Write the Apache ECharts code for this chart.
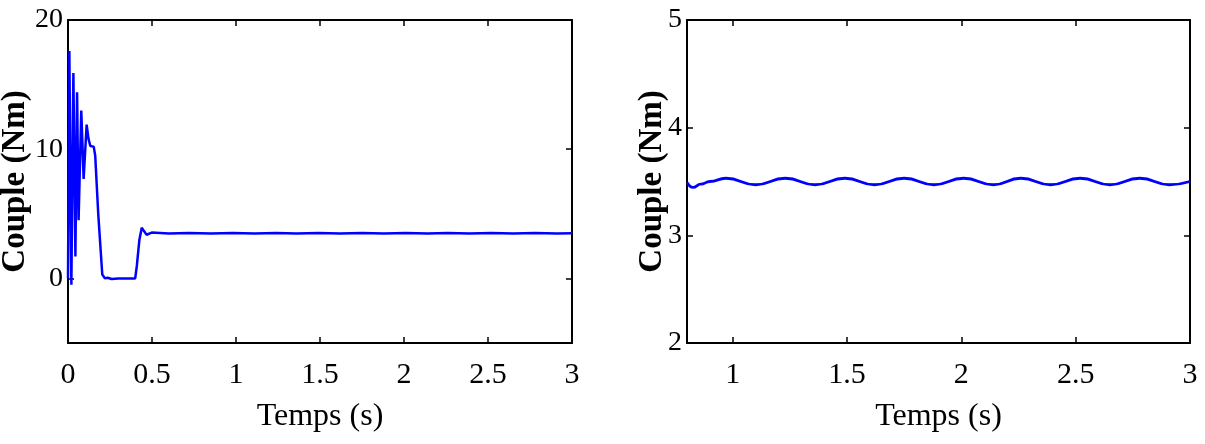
<!DOCTYPE html>
<html>
<head>
<meta charset="utf-8">
<script src="https://cdn.jsdelivr.net/npm/echarts@6/dist/echarts.min.js"></script>
<style>
html, body { margin: 0; padding: 0; background: #fff; }
#chart_plot_01 { width: 1205px; height: 444px; }
</style>
</head>
<body>
<div id="chart_plot_01"></div>
<script>
// couple au démarrage (figure de gauche)
let tempsG = [0, 0.008, 0.02, 0.032, 0.044, 0.054, 0.063, 0.079, 0.093, 0.111, 0.122, 0.133, 0.153, 0.162, 0.18, 0.204, 0.22, 0.235, 0.244, 0.26, 0.3, 0.4, 0.41, 0.425, 0.439, 0.45, 0.468, 0.498, 0.6, 0.72, 0.85, 0.98, 1.11, 1.24, 1.36, 1.49, 1.62, 1.75, 1.88, 2.01, 2.14, 2.26, 2.39, 2.52, 2.65, 2.78, 2.91, 3.0];
let coupleG = [0, 17.6, -0.5, 15.9, 1.7, 14.4, 4.5, 13.0, 7.7, 11.9, 10.8, 10.25, 10.2, 9.5, 5, 0.3, 0, 0.05, 0.18, -0.05, 0, 0, 1, 3, 3.92, 3.7, 3.38, 3.55, 3.47, 3.52, 3.47, 3.52, 3.47, 3.52, 3.47, 3.52, 3.47, 3.52, 3.47, 3.52, 3.47, 3.52, 3.47, 3.52, 3.47, 3.52, 3.47, 3.5];

// zoom régime permanent (figure de droite)
let tempsD = [0.8, 0.826, 0.86, 0.9, 0.97, 1.10, 1.23, 1.36, 1.49, 1.62, 1.75, 1.88, 2.01, 2.14, 2.26, 2.39, 2.52, 2.65, 2.78, 2.91, 3.0];
let coupleD = [3.49, 3.445, 3.475, 3.5, 3.53, 3.47, 3.53, 3.47, 3.53, 3.47, 3.53, 3.47, 3.53, 3.47, 3.53, 3.47, 3.53, 3.47, 3.53, 3.47, 3.5];

// graduations
let xTicksG = [0, 0.5, 1, 1.5, 2, 2.5, 3];
let yTicksG = [0, 10, 20];
let xTicksD = [1, 1.5, 2, 2.5, 3];
let yTicksD = [2, 3, 4, 5];

let police = "'Liberation Serif', 'Times New Roman', serif";

function pairs(xs, ys) {
  let out = [];
  for (let i = 0; i < xs.length; i++) {
    out.push([xs[i], ys[i]]);
  }
  return out;
}

// axe principal (avec étiquettes) ou miroir (boîte matlab)
function axe(type, pos, grid, min, max, ticks, name, gap, mirror) {
  let a = {
    type: 'value',
    gridIndex: grid,
    position: pos,
    min: min,
    max: max,
    splitLine: { show: false },
    axisLine: { show: true, onZero: false, lineStyle: { color: '#000', width: 2 } },
    axisTick: { show: true, inside: true, length: 6, customValues: ticks, lineStyle: { color: '#000', width: 1.5 } },
    axisLabel: {
      show: !mirror,
      customValues: ticks,
      color: '#000',
      fontFamily: police,
      fontSize: type == 'x' ? 30 : 28
    }
  };
  if (!mirror && name) {
    a.name = name;
    a.nameLocation = 'middle';
    a.nameGap = gap;
    a.nameMoveOverlap = false;
    if (type == 'x') {
      a.nameTextStyle = { color: '#000', fontFamily: police, fontSize: 32 };
    } else {
      a.nameTextStyle = { color: '#000', fontFamily: police, fontSize: 33, fontWeight: 'bold' };
    }
  }
  if (type == 'x') {
    a.axisLabel.margin = 17;
  } else {
    a.axisLabel.margin = 5;
  }
  return a;
}

let myChart = echarts.init(document.getElementById('chart_plot_01'));

let option = {
  backgroundColor: '#fff',
  animation: false,
  grid: [
    { left: 68, top: 20, width: 504, height: 323, containLabel: false, outerBoundsMode: 'none' },
    { left: 687, top: 20, width: 503, height: 323, containLabel: false, outerBoundsMode: 'none' }
  ],
  xAxis: [
    axe('x', 'bottom', 0, 0, 3, xTicksG, 'Temps (s)', 58, false),
    axe('x', 'top', 0, 0, 3, xTicksG, '', 0, true),
    axe('x', 'bottom', 1, 0.8, 3, xTicksD, 'Temps (s)', 58, false),
    axe('x', 'top', 1, 0.8, 3, xTicksD, '', 0, true)
  ],
  yAxis: [
    axe('y', 'left', 0, -5, 20, yTicksG, 'Couple (Nm)', 36, false),
    axe('y', 'right', 0, -5, 20, yTicksG, '', 0, true),
    axe('y', 'left', 1, 2, 5, yTicksD, 'Couple (Nm)', 18, false),
    axe('y', 'right', 1, 2, 5, yTicksD, '', 0, true)
  ],
  series: [
    {
      type: 'line',
      xAxisIndex: 0,
      yAxisIndex: 0,
      data: pairs(tempsG, coupleG),
      showSymbol: false,
      lineStyle: { color: '#0000ff', width: 2.5 }
    },
    {
      type: 'line',
      xAxisIndex: 2,
      yAxisIndex: 2,
      data: pairs(tempsD, coupleD),
      showSymbol: false,
      smooth: 0.5,
      smoothMonotone: 'x',
      lineStyle: { color: '#0000ff', width: 2.8 }
    }
  ]
};

myChart.setOption(option);
</script>
</body>
</html>
